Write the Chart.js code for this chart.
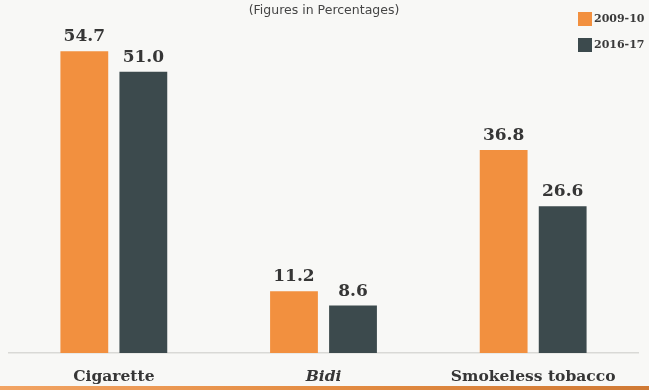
<!DOCTYPE html>
<html lang="en">
<head>
<meta charset="UTF-8">
<title>Tobacco use by product</title>
<script src="https://cdn.jsdelivr.net/npm/chart.js"></script>
<style>
  html, body { margin: 0; padding: 0; background: #f8f8f6; }
  .wrap { position: relative; width: 649px; height: 390px; overflow: hidden; }
  .strip { position: absolute; left: 0; right: 0; bottom: 0; height: 4px;
           background: linear-gradient(90deg, #f2a464, #e48c42 50%, #d07a35); }
</style>
</head>
<body>
<div class="wrap">
  <canvas id="chart" width="649" height="390"></canvas>
  <div class="strip"></div>
</div>
<script>
const categories = ['Cigarette', 'Bidi', 'Smokeless tobacco'];
const italicCats = ['Bidi'];
const seriesNames = ['2009-10', '2016-17'];
const values2009 = [54.7, 11.2, 36.8];
const values2016 = [51.0, 8.6, 26.6];
const colors = ['#f2903f', '#3c4a4d'];
const subtitle = '(Figures in Percentages)';

const serif = '"DejaVu Serif", "Liberation Serif", serif';

// value above each bar, plus the subtitle and the square legend
const extras = {
  id: 'extras',
  afterDatasetsDraw(chart) {
    const ctx = chart.ctx;
    ctx.save();
    ctx.fillStyle = '#363636';
    ctx.font = 'bold 17px ' + serif;
    ctx.textAlign = 'center';
    ctx.textBaseline = 'alphabetic';
    chart.data.datasets.forEach((ds, i) => {
      chart.getDatasetMeta(i).data.forEach((bar, j) => {
        ctx.fillText(ds.data[j].toFixed(1), bar.x, bar.y - 10);
      });
    });

    ctx.font = '12.5px "DejaVu Sans", sans-serif';
    ctx.fillStyle = '#454545';
    ctx.textBaseline = 'middle';
    ctx.fillText(subtitle, 324, 11);

    ctx.textAlign = 'left';
    ctx.font = 'bold 11px ' + serif;
    seriesNames.forEach((name, i) => {
      const y = 12 + i * 26;
      ctx.fillStyle = colors[i];
      ctx.fillRect(578, y, 14, 14);
      ctx.fillStyle = '#3a3a3a';
      ctx.fillText(name, 594, y + 7);
    });
    ctx.restore();
  }
};

new Chart(document.getElementById('chart'), {
  type: 'bar',
  data: {
    labels: categories,
    datasets: [
      { label: seriesNames[0], data: values2009, backgroundColor: colors[0] },
      { label: seriesNames[1], data: values2016, backgroundColor: colors[1] }
    ]
  },
  options: {
    responsive: false,
    animation: false,
    events: [],
    categoryPercentage: 0.563,
    barPercentage: 0.81,
    layout: { padding: { top: 22, left: 9, right: 11, bottom: 0 } },
    plugins: { legend: { display: false }, tooltip: { enabled: false } },
    scales: {
      y: { display: false, min: 0, max: 60 },
      x: {
        grid: { display: false, drawTicks: false },
        border: { color: '#d9d9d6', width: 1.5 },
        ticks: {
          padding: 15,
          color: '#363636',
          font: c => ({
            family: serif, size: 15.5, weight: 'bold',
            style: italicCats.includes(categories[c.index]) ? 'italic' : 'normal'
          })
        },
        afterFit: s => { s.height = 37; }
      }
    }
  },
  plugins: [extras]
});
</script>
</body>
</html>
